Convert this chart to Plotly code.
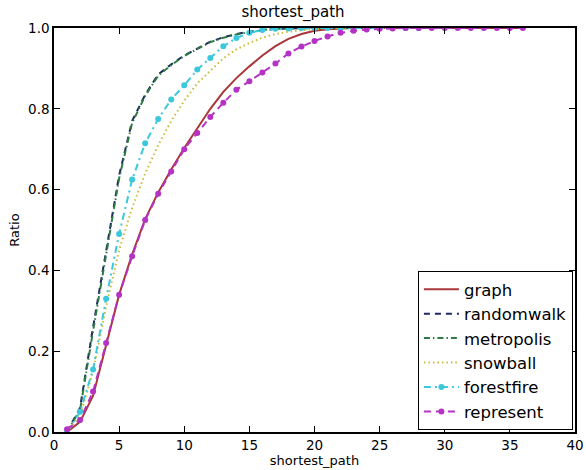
import plotly.graph_objects as go

path_lengths = list(range(1, 37))

graph = [0.0, 0.025, 0.09, 0.215, 0.34, 0.44, 0.527, 0.593, 0.65, 0.703, 0.752, 0.8,
         0.842, 0.876, 0.905, 0.932, 0.955, 0.973, 0.985, 0.993, 0.997, 0.999, 1.0, 1.0,
         1.0, 1.0, 1.0, 1.0, 1.0, 1.0, 1.0, 1.0, 1.0, 1.0, 1.0, 1.0]
randomwalk = [0.0, 0.06, 0.26, 0.45, 0.635, 0.77, 0.835, 0.885, 0.91, 0.932, 0.95, 0.966,
              0.977, 0.985, 0.991, 0.995, 0.998, 0.999, 1.0, 1.0, 1.0, 1.0, 1.0, 1.0, 1.0]
metropolis = [0.0, 0.055, 0.25, 0.442, 0.628, 0.765, 0.832, 0.882, 0.908, 0.931, 0.949, 0.965,
              0.976, 0.984, 0.99, 0.995, 0.998, 0.999, 1.0, 1.0, 1.0, 1.0, 1.0, 1.0, 1.0]
snowball = [0.0, 0.04, 0.15, 0.31, 0.45, 0.555, 0.64, 0.71, 0.77, 0.82, 0.863, 0.895,
            0.925, 0.947, 0.963, 0.976, 0.985, 0.991, 0.995, 0.998, 0.999, 1.0, 1.0, 1.0,
            1.0, 1.0, 1.0, 1.0, 1.0, 1.0]
forestfire = [0.0, 0.05, 0.155, 0.33, 0.49, 0.625, 0.715, 0.775, 0.823, 0.858, 0.897, 0.926,
              0.955, 0.975, 0.988, 0.995, 0.998, 0.999, 1.0, 1.0, 1.0, 1.0, 1.0, 1.0, 1.0,
              1.0, 1.0, 1.0]
represent = [0.007, 0.03, 0.1, 0.22, 0.34, 0.435, 0.525, 0.59, 0.645, 0.7, 0.74, 0.78,
             0.815, 0.847, 0.868, 0.89, 0.912, 0.937, 0.954, 0.968, 0.979, 0.988, 0.993,
             0.996, 0.998, 0.999, 1.0, 1.0, 1.0, 1.0, 1.0, 1.0, 1.0, 1.0, 1.0, 1.0]

x_ticks = [0, 5, 10, 15, 20, 25, 30, 35, 40]
y_ticks = [0.0, 0.2, 0.4, 0.6, 0.8, 1.0]

series = [
    ("graph", graph, "#a8363a", "solid", False),
    ("randomwalk", randomwalk, "#1c2a5c", "6px,5px", False),
    ("metropolis", metropolis, "#2f7a45", "6px,3px,1.5px,3px", False),
    ("snowball", snowball, "#c9bb3a", "1.5px,3px", False),
    ("forestfire", forestfire, "#3cc8dc", "7px,4px,2px,4px", True),
    ("represent", represent, "#b533c4", "7px,5px", True),
]

fig = go.Figure()
for name, vals, color, dash, mk in series:
    fig.add_trace(go.Scatter(
        x=path_lengths[:len(vals)], y=vals, name=name,
        mode="lines+markers" if mk else "lines",
        line=dict(color=color, width=2, dash=dash),
        marker=dict(size=6, color=color) if mk else None,
    ))

axis_common = dict(
    showline=True, linecolor="black", linewidth=1.5, mirror="ticks",
    ticks="inside", ticklen=6, tickwidth=1, tickcolor="black",
    showgrid=False, zeroline=False, automargin=False,
    tickfont=dict(family="DejaVu Sans", size=13.5, color="black"),
)

fig.update_layout(
    width=586, height=470,
    margin=dict(l=54, r=11, t=28, b=38),
    paper_bgcolor="white", plot_bgcolor="white",
    title=dict(text="shortest_path", x=0.5, xanchor="center", y=0.975, yanchor="middle",
               font=dict(family="DejaVu Sans", size=15, color="black")),
    xaxis=dict(range=[0, 40], tickvals=x_ticks, ticktext=[str(v) for v in x_ticks],
               ticklabelstandoff=0,
               title=dict(text="shortest_path", standoff=2,
                          font=dict(family="DejaVu Sans", size=13, color="black")),
               **axis_common),
    yaxis=dict(range=[0, 1], tickvals=y_ticks, ticktext=[f"{v:.1f}" for v in y_ticks],
               title=dict(text="Ratio", standoff=6,
                          font=dict(family="DejaVu Sans", size=13, color="black")),
               **axis_common),
    legend=dict(x=0.996, y=0.005, xanchor="right", yanchor="bottom",
                bordercolor="black", borderwidth=1, bgcolor="white",
                font=dict(family="DejaVu Sans", size=16.5, color="black"),
                itemwidth=35),
    showlegend=True,
)

fig.write_html("out.html")
